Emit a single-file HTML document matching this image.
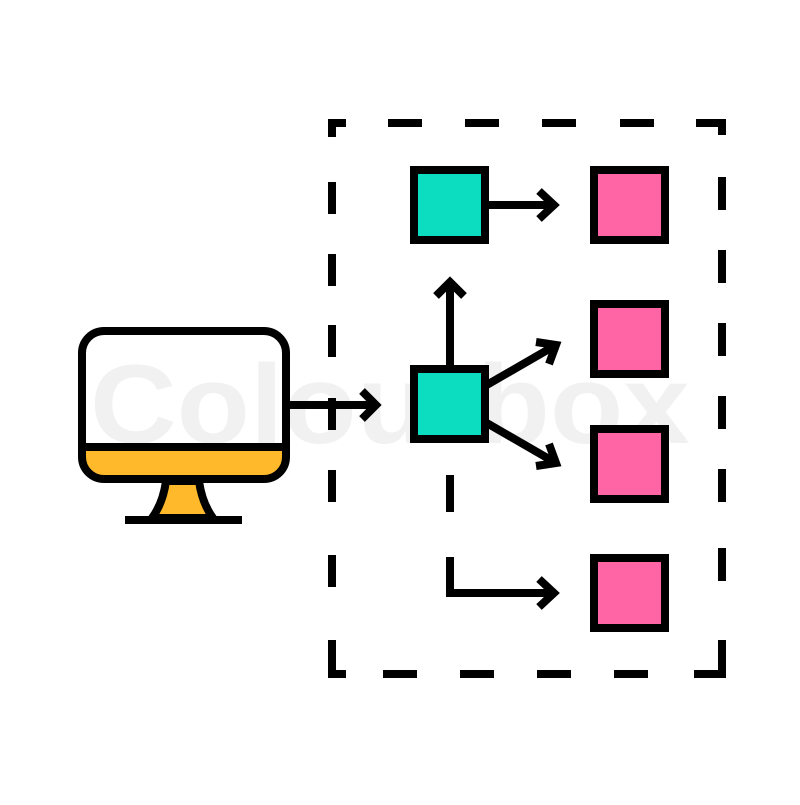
<!DOCTYPE html>
<html><head><style>html,body{margin:0;padding:0;background:#fff}</style></head>
<body>
<svg width="800" height="800" viewBox="0 0 800 800" xmlns="http://www.w3.org/2000/svg">
<rect width="800" height="800" fill="#fff"/>
<text x="390" y="443" text-anchor="middle" font-family="Liberation Sans, sans-serif" font-weight="bold" font-size="112" fill="#f1f1f1" textLength="600" lengthAdjust="spacingAndGlyphs">Colourbox</text>
<g stroke="#000" stroke-width="8" fill="none" stroke-linecap="butt">
<polyline points="332,137 332,123 346,123"/>
<polyline points="696,123 722,123 722,135"/>
<polyline points="332,640 332,674 346,674"/>
<polyline points="694,674 722,674 722,640"/>
<line x1="388" y1="123" x2="422" y2="123"/><line x1="465" y1="123" x2="499" y2="123"/>
<line x1="542" y1="123" x2="576" y2="123"/><line x1="620" y1="123" x2="654" y2="123"/>
<line x1="383" y1="674" x2="417" y2="674"/><line x1="460" y1="674" x2="494" y2="674"/>
<line x1="537" y1="674" x2="571" y2="674"/><line x1="614" y1="674" x2="648" y2="674"/>
<line x1="332" y1="182" x2="332" y2="214"/><line x1="332" y1="254" x2="332" y2="286"/>
<line x1="332" y1="325" x2="332" y2="357"/><line x1="332" y1="398" x2="332" y2="430"/>
<line x1="332" y1="470" x2="332" y2="502"/><line x1="332" y1="555" x2="332" y2="587"/>
<line x1="722" y1="177" x2="722" y2="210"/><line x1="722" y1="250" x2="722" y2="283"/>
<line x1="722" y1="323" x2="722" y2="356"/><line x1="722" y1="396" x2="722" y2="429"/>
<line x1="722" y1="469" x2="722" y2="502"/><line x1="722" y1="548" x2="722" y2="581"/>
</g>
<g stroke="#000" stroke-width="8">
<rect x="414" y="170" width="71" height="70" fill="#0cdcc0"/>
<rect x="414" y="369" width="71" height="70" fill="#0cdcc0"/>
<rect x="594" y="170" width="71" height="70" fill="#ff64a5"/>
<rect x="594" y="304" width="71" height="70" fill="#ff64a5"/>
<rect x="594" y="429" width="71" height="70" fill="#ff64a5"/>
<rect x="594" y="558" width="71" height="70" fill="#ff64a5"/>
</g>
<g stroke="#000" stroke-width="8" fill="none" stroke-linecap="butt">
<line x1="485" y1="205" x2="554" y2="205"/><polyline points="539,191 554,205 539,219"/>
<line x1="450" y1="369" x2="450" y2="282"/><polyline points="436,296 450,282 464,296"/>
<line x1="485" y1="386" x2="556" y2="345"/><polyline points="536,342 556,345 549,364"/>
<line x1="485" y1="422" x2="556" y2="463"/><polyline points="549,444 556,463 536,466"/>
<line x1="450" y1="475" x2="450" y2="512"/>
<polyline points="450,557 450,593 554,593"/><polyline points="539,579 554,593 539,607"/>
<line x1="290" y1="405" x2="376" y2="405"/><polyline points="362,391 376,405 362,419"/>
</g>
<path d="M82,447 H286 V459 a20,20 0 0 1 -20,20 H102 a20,20 0 0 1 -20,-20 Z" fill="#ffb92a"/>
<path d="M166,481 L199,481 Q202,503 213,518 L152,518 Q163,503 166,481 Z" fill="#ffb92a" stroke="#000" stroke-width="8" stroke-linejoin="round"/>
<rect x="82" y="331" width="204" height="148" rx="22" fill="none" stroke="#000" stroke-width="8"/>
<line x1="82" y1="447" x2="286" y2="447" stroke="#000" stroke-width="8"/>
<line x1="125" y1="520" x2="242" y2="520" stroke="#000" stroke-width="8"/>
</svg>
</body></html>
